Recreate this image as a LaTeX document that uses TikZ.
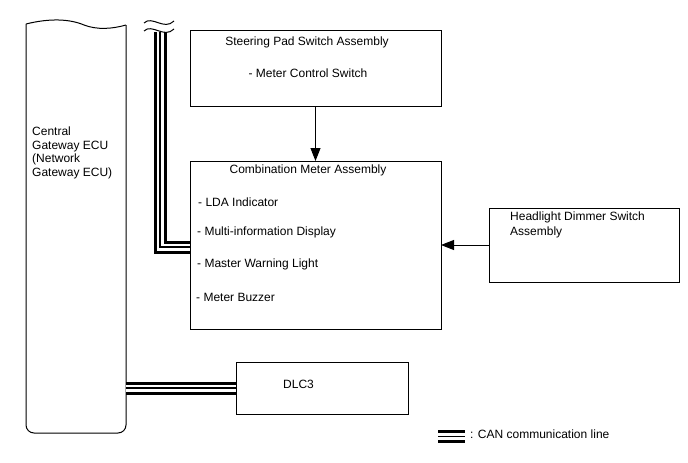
\documentclass[tikz,border=0pt]{standalone}
\usepackage{fontspec}
\setmainfont{Liberation Sans}
\usetikzlibrary{arrows.meta}
\begin{document}
\begin{tikzpicture}[x=1pt,y=-1pt,
  box/.style={draw,line width=1pt,inner sep=0pt,outer sep=0pt},
  txt/.style={inner sep=0pt,font=\fontsize{12}{13.7}\selectfont},
  can/.style={line width=13pt,draw=black,line join=miter,
    postaction={draw=white,line width=7pt},
    postaction={draw=black,line width=1.5pt}},
  arr/.style={line width=1pt,-{Triangle[length=13pt,width=10pt]}}]
\useasboundingbox (0,0) rectangle (688,463);

% ECU
\node[inner sep=0pt,minimum width=100pt,minimum height=409pt,anchor=north west] (ecu) at (26,24) {};
\draw[line width=1pt] (26,24) .. controls (50,18) and (70,19) .. (84,25)
  .. controls (97,30) and (112,29) .. (126,25);
\draw[line width=1pt,rounded corners=8pt] (126,25) -- (126,433) -- (26,433) -- (26,24);
\node[txt,align=left,anchor=west] (ecut) at (32,153) {Central\\Gateway ECU\\(Network\\Gateway ECU)};

% boxes
\node[box,anchor=north west,minimum width=251pt,minimum height=76pt] (steer) at (190,30) {};
\node[box,anchor=north west,minimum width=251pt,minimum height=168pt] (meter) at (190,161) {};
\node[box,anchor=north west,minimum width=190pt,minimum height=74pt] (head) at (489,208) {};
\node[box,anchor=north west,minimum width=172pt,minimum height=52pt] (dlc) at (236,362) {};

% texts
\node[txt] (steert) at (307,42) {Steering Pad Switch Assembly};
\node[txt] (steers) at (308,73) {- Meter Control Switch};
\node[txt] (metert) at (308,170) {Combination Meter Assembly};
\node[txt,anchor=west] (m1) at (198,202) {- LDA Indicator};
\node[txt,anchor=west] (m2) at (197,232) {- Multi-information Display};
\node[txt,anchor=west] (m3) at (197,264) {- Master Warning Light};
\node[txt,anchor=west] (m4) at (196,297) {- Meter Buzzer};
\node[txt,align=left,anchor=north west,font=\fontsize{12}{15}\selectfont] (headt) at (510,212) {Headlight Dimmer Switch\\Assembly};
\node[txt,anchor=west] (dlct) at (283,384) {DLC3};

% arrows
\draw[arr] (steer.south) -- (meter.north);
\draw[arr] (head.west) -- (meter.east |- head.west);

% CAN lines
\coordinate (cantop) at (160,32);
\draw[can] (cantop) |- ([yshift=-86pt]meter.north west);
\draw[can] (ecu.east |- dlc.west) -- (dlc.west);
\draw[line width=1pt] (144,23) .. controls (152,15) and (164,31) .. (174,21);
\draw[line width=1pt] (144,31) .. controls (152,23) and (164,39) .. (174,29);

% legend
\coordinate (lg1) at (438,436.5);
\coordinate (lg2) at (465,436.5);
\draw[can] (lg1) -- (lg2);
\node[txt,anchor=west] (lgt) at (470,434.5) {: CAN communication line};
\end{tikzpicture}
\end{document}
